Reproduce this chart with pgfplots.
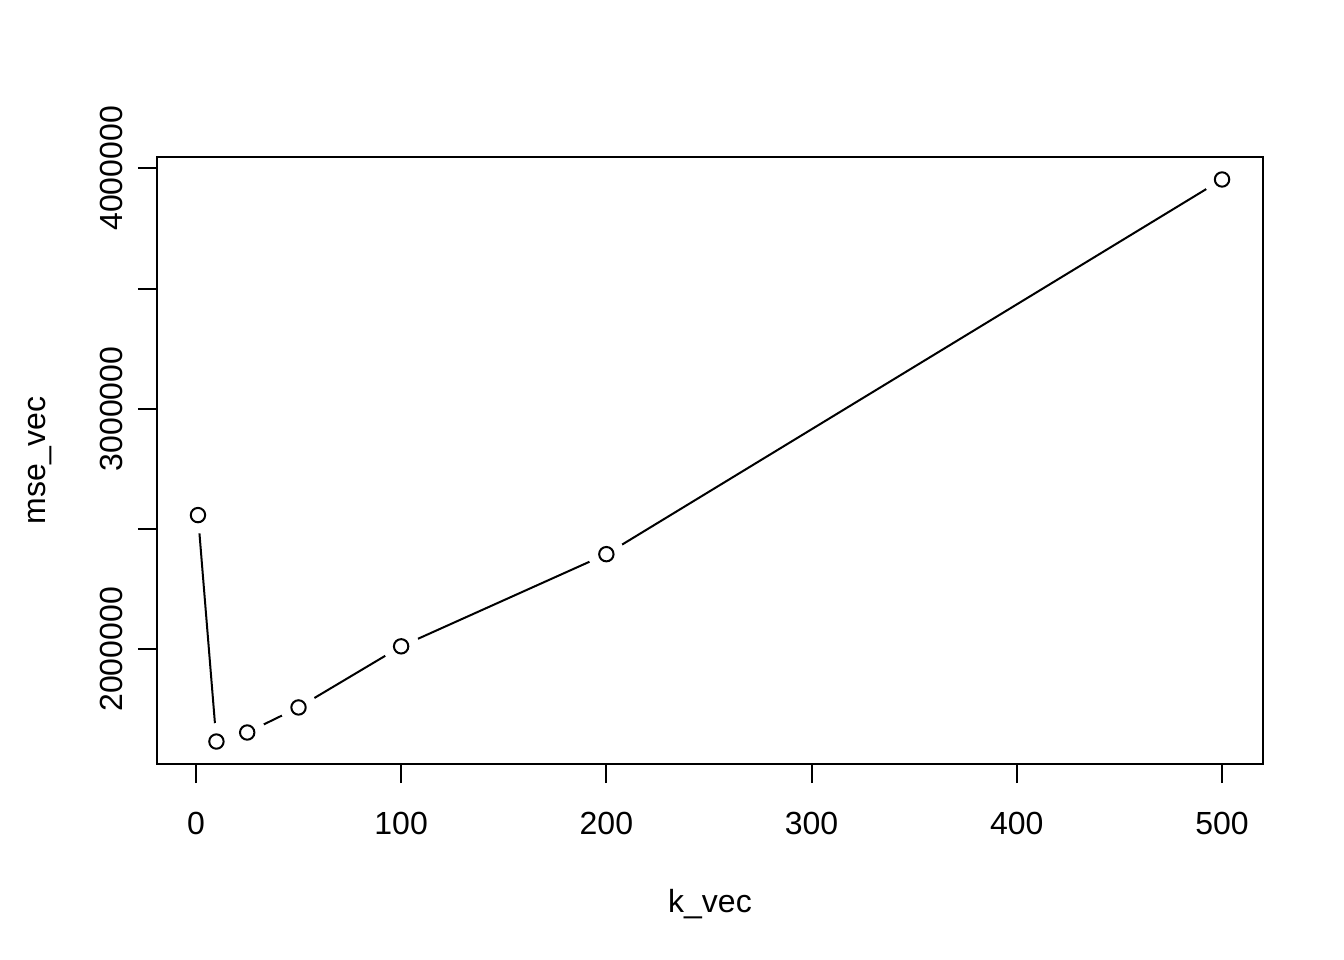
\documentclass[border=0pt]{standalone}
\usepackage{pgfplots}
\pgfplotsset{compat=1.18}
\usepackage{fontspec}
\setmainfont{Liberation Sans}
\begin{document}
\begin{tikzpicture}
\useasboundingbox (-78.5bp,-98bp) rectangle (593.5bp,382bp);
\begin{axis}[
  at={(0,0)}, anchor=south west,
  scale only axis, width=553bp, height=303.5bp,
  xmin=-18.96, xmax=519.96,
  ymin=1523167, ymax=4047667,
  scaled y ticks=false, scaled x ticks=false,
  axis line style={line width=1bp},
  tick style={black, line width=1bp},
  major tick length=9.6bp,
  tick align=outside,
  xtick pos=bottom, ytick pos=left,
  xtick={0,100,200,300,400,500},
  xticklabels={0,100,200,300,400,500},
  ytick={2000000,2500000,3000000,3500000,4000000},
  yticklabels={2000000,,3000000,,4000000},
  font=\fontsize{16bp}{19bp}\selectfont,
  xticklabel style={anchor=center, yshift=-20bp},
  yticklabel style={xshift=-13bp, rotate=90, anchor=center},
  every axis x label/.style={at={(rel axis cs:0.5,0)}, anchor=center, yshift=-70bp},
  every axis y label/.style={at={(rel axis cs:0,0.5)}, anchor=center, xshift=-58.5bp, rotate=90},
  xlabel={k\_vec}, ylabel={mse\_vec},
]
\addplot[black, line width=1bp] coordinates {
(1,2558333) (10,1616667) (25,1654167) (50,1758333) (100,2012500) (200,2395833) (500,3954167)};
\addplot[only marks, mark=*, mark size=9bp, mark options={fill=white, draw=white}] coordinates {
(1,2558333) (10,1616667) (25,1654167) (50,1758333) (100,2012500) (200,2395833) (500,3954167)};
\addplot[only marks, mark=o, mark size=3.6bp, mark options={black, line width=1bp}] coordinates {
(1,2558333) (10,1616667) (25,1654167) (50,1758333) (100,2012500) (200,2395833) (500,3954167)};
\end{axis}
\end{tikzpicture}
\end{document}
